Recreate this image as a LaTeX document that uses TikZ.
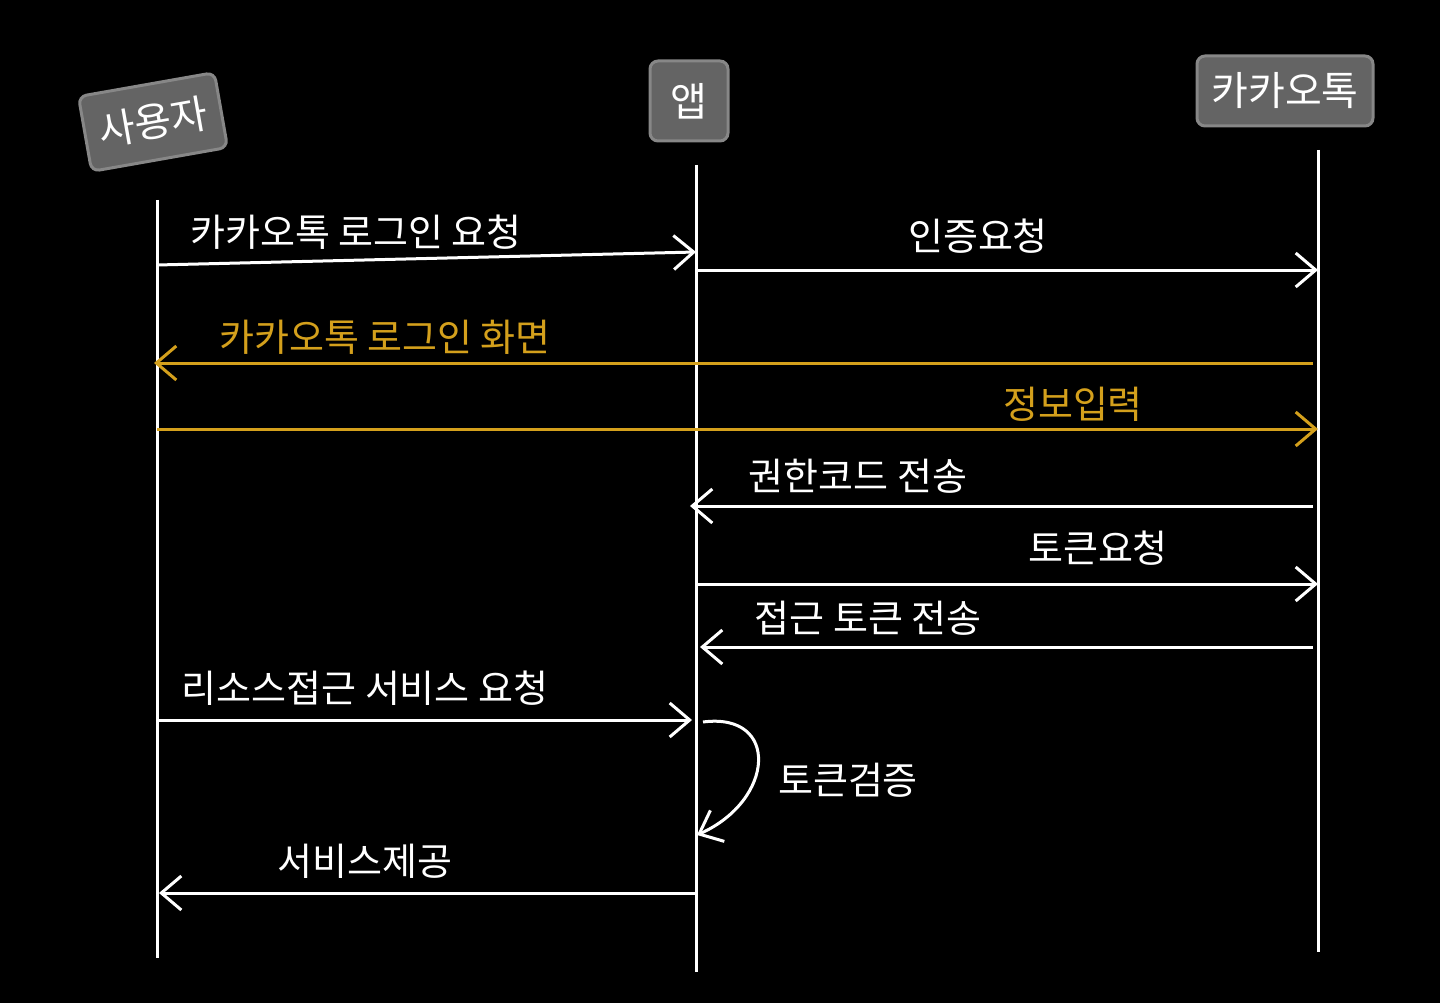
\documentclass[tikz,border=0pt]{standalone}
\usepackage{fontspec}
\newfontfamily\kr{Noto Sans CJK KR}
\usetikzlibrary{arrows.meta}
\definecolor{gold}{RGB}{212,160,28}
\definecolor{boxgray}{RGB}{100,100,100}
\definecolor{boxedge}{RGB}{135,135,135}
\tikzset{
  lifeline/.style={draw=white,line width=3pt},
  msg/.style={draw=white,line width=3pt,-{Straight Barb[length=20pt,width=34pt,line width=3pt]}},
  goldmsg/.style={msg,draw=gold,-{Straight Barb[length=20pt,width=34pt,line width=3pt,color=gold]}},
  lbl/.style={text=white,font=\kr\fontsize{38}{42}\selectfont,inner sep=0pt},
  goldlbl/.style={lbl,text=gold},
  actor/.style={fill=boxgray,draw=boxedge,line width=3pt,rounded corners=8pt,text=white,font=\kr\fontsize{40}{44}\selectfont,inner sep=0pt}
}
\begin{document}
\begin{tikzpicture}[x=1pt,y=-1pt]
\fill[black] (0,0) rectangle (1440,1003);
\useasboundingbox (0,0) rectangle (1440,1003);
% actors
\node[actor,minimum width=138pt,minimum height=76pt,rotate=10] (user) at (153,122) {사용자};
\node[actor,minimum width=78pt,minimum height=80pt] (app) at (689,101) {앱};
\node[actor,minimum width=176pt,minimum height=70pt] (kakao) at (1285,91) {카카오톡};
% lifelines
\coordinate (ut) at (157,200); \coordinate (ub) at (157,958);
\coordinate (at) at (696,165); \coordinate (ab) at (696,972);
\coordinate (kt) at (1318,150); \coordinate (kb) at (1318,952);
\draw[lifeline] (ut) -- (ub);
\draw[lifeline] (at) -- (ab);
\draw[lifeline] (kt) -- (kb);
% message end points
\coordinate (m1a) at (157,265); \coordinate (m1b) at (696,252);
\coordinate (m2a) at (696,270); \coordinate (m2b) at (1318,270);
\coordinate (m3a) at (1313,363); \coordinate (m3b) at (154,363);
\coordinate (m4a) at (157,429); \coordinate (m4b) at (1318,429);
\coordinate (m5a) at (1313,506); \coordinate (m5b) at (690,506);
\coordinate (m6a) at (696,584); \coordinate (m6b) at (1318,584);
\coordinate (m7a) at (1313,647); \coordinate (m7b) at (700,647);
\coordinate (m8a) at (157,720); \coordinate (m8b) at (692,720);
\coordinate (s1) at (703,722); \coordinate (s2) at (697,835);
\coordinate (m10a) at (696,893); \coordinate (m10b) at (159,893);
% messages
\draw[msg] (m1a) -- (m1b);
\draw[msg] (m2a) -- (m2b);
\draw[goldmsg] (m3a) -- (m3b);
\draw[goldmsg] (m4a) -- (m4b);
\draw[msg] (m5a) -- (m5b);
\draw[msg] (m6a) -- (m6b);
\draw[msg] (m7a) -- (m7b);
\draw[msg] (m8a) -- (m8b);
\draw[msg] (s1) .. controls (780,712) and (775,800) .. (s2);
\draw[msg] (m10a) -- (m10b);
% labels
\node[lbl] (l1) at (356,232) {카카오톡 로그인 요청};
\node[lbl] (l2) at (978,236) {인증요청};
\node[goldlbl] (l3) at (385,337) {카카오톡 로그인 화면};
\node[goldlbl] (l4) at (1073,404) {정보입력};
\node[lbl] (l5) at (858,476) {권한코드 전송};
\node[lbl] (l6) at (1098,548) {토큰요청};
\node[lbl] (l7) at (868,618) {접근 토큰 전송};
\node[lbl] (l8) at (365,688) {리소스접근 서비스 요청};
\node[lbl] (l9) at (848,780) {토큰검증};
\node[lbl] (l10) at (365,861) {서비스제공};
\end{tikzpicture}
\end{document}
